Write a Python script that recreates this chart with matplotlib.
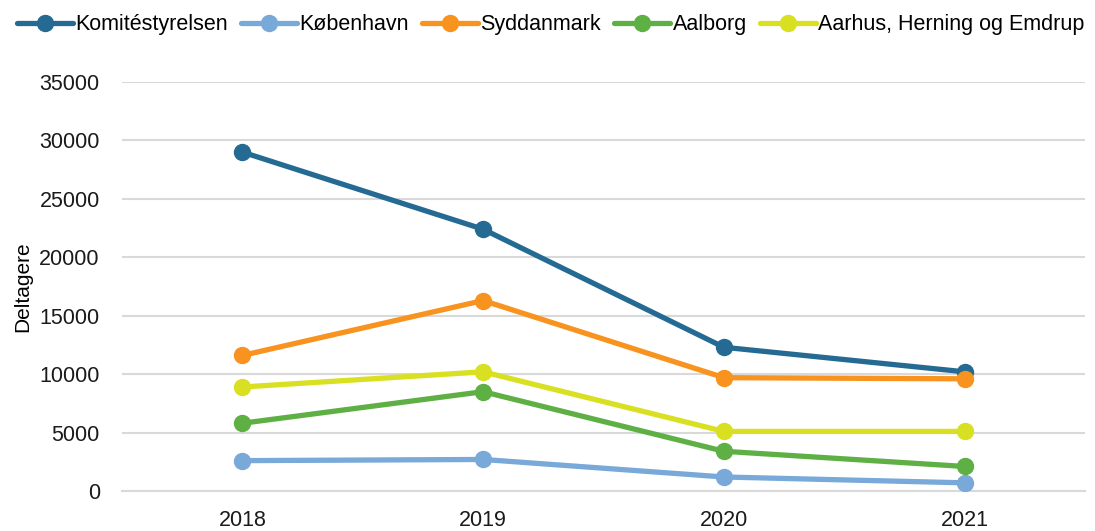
import matplotlib.pyplot as plt

# data
years = ["2018", "2019", "2020", "2021"]
komite = [29000, 22400, 12300, 10200]
kobenhavn = [2600, 2700, 1200, 700]
syddanmark = [11600, 16300, 9700, 9600]
aalborg = [5800, 8500, 3400, 2100]
aarhus = [8900, 10200, 5100, 5100]

names = ["Komitéstyrelsen", "København", "Syddanmark", "Aalborg",
         "Aarhus, Herning og Emdrup"]
colors = ["#246A92", "#78A9D8", "#F7931E", "#5EB045", "#D8E021"]

plt.rcParams['font.family'] = ['Liberation Sans', 'DejaVu Sans']

fig = plt.figure(figsize=(10.95, 5.31), dpi=100)
ax = fig.add_axes([0.1114, 0.0753, 0.8795, 0.7703])

x = list(range(len(years)))
for vals, name, col in zip([komite, kobenhavn, syddanmark, aalborg, aarhus],
                           names, colors):
    ax.plot(x, vals, color=col, lw=3.8, marker="o", ms=11.5, label=name,
            solid_capstyle="round", zorder=3)

ax.set_xlim(-0.5, 3.5)
ax.set_ylim(0, 35000)
ax.set_yticks(range(0, 35001, 5000))
ax.set_xticks(x)
ax.set_xticklabels(years)
ax.grid(axis="y", color="#D9D9D9", lw=1.5)
ax.set_axisbelow(True)
for s in ["top", "right", "left"]:
    ax.spines[s].set_visible(False)
ax.spines["bottom"].set_color("#D9D9D9")
ax.spines["bottom"].set_linewidth(1.5)
ax.tick_params(length=0, labelsize=15.5, colors="#1a1a1a")
ax.tick_params(axis="y", pad=16)
ax.tick_params(axis="x", pad=14)
ax.set_ylabel("Deltagere", fontsize=15, labelpad=10)
ax.yaxis.set_label_coords(-0.093, 0.5)

fig.legend(loc="upper left", bbox_to_anchor=(0.005, 0.995), ncol=5,
           frameon=False, fontsize=15.5, handlelength=2.6, handletextpad=0.1,
           columnspacing=0.62, borderaxespad=0.15)

fig.savefig("out.png", dpi=100)
